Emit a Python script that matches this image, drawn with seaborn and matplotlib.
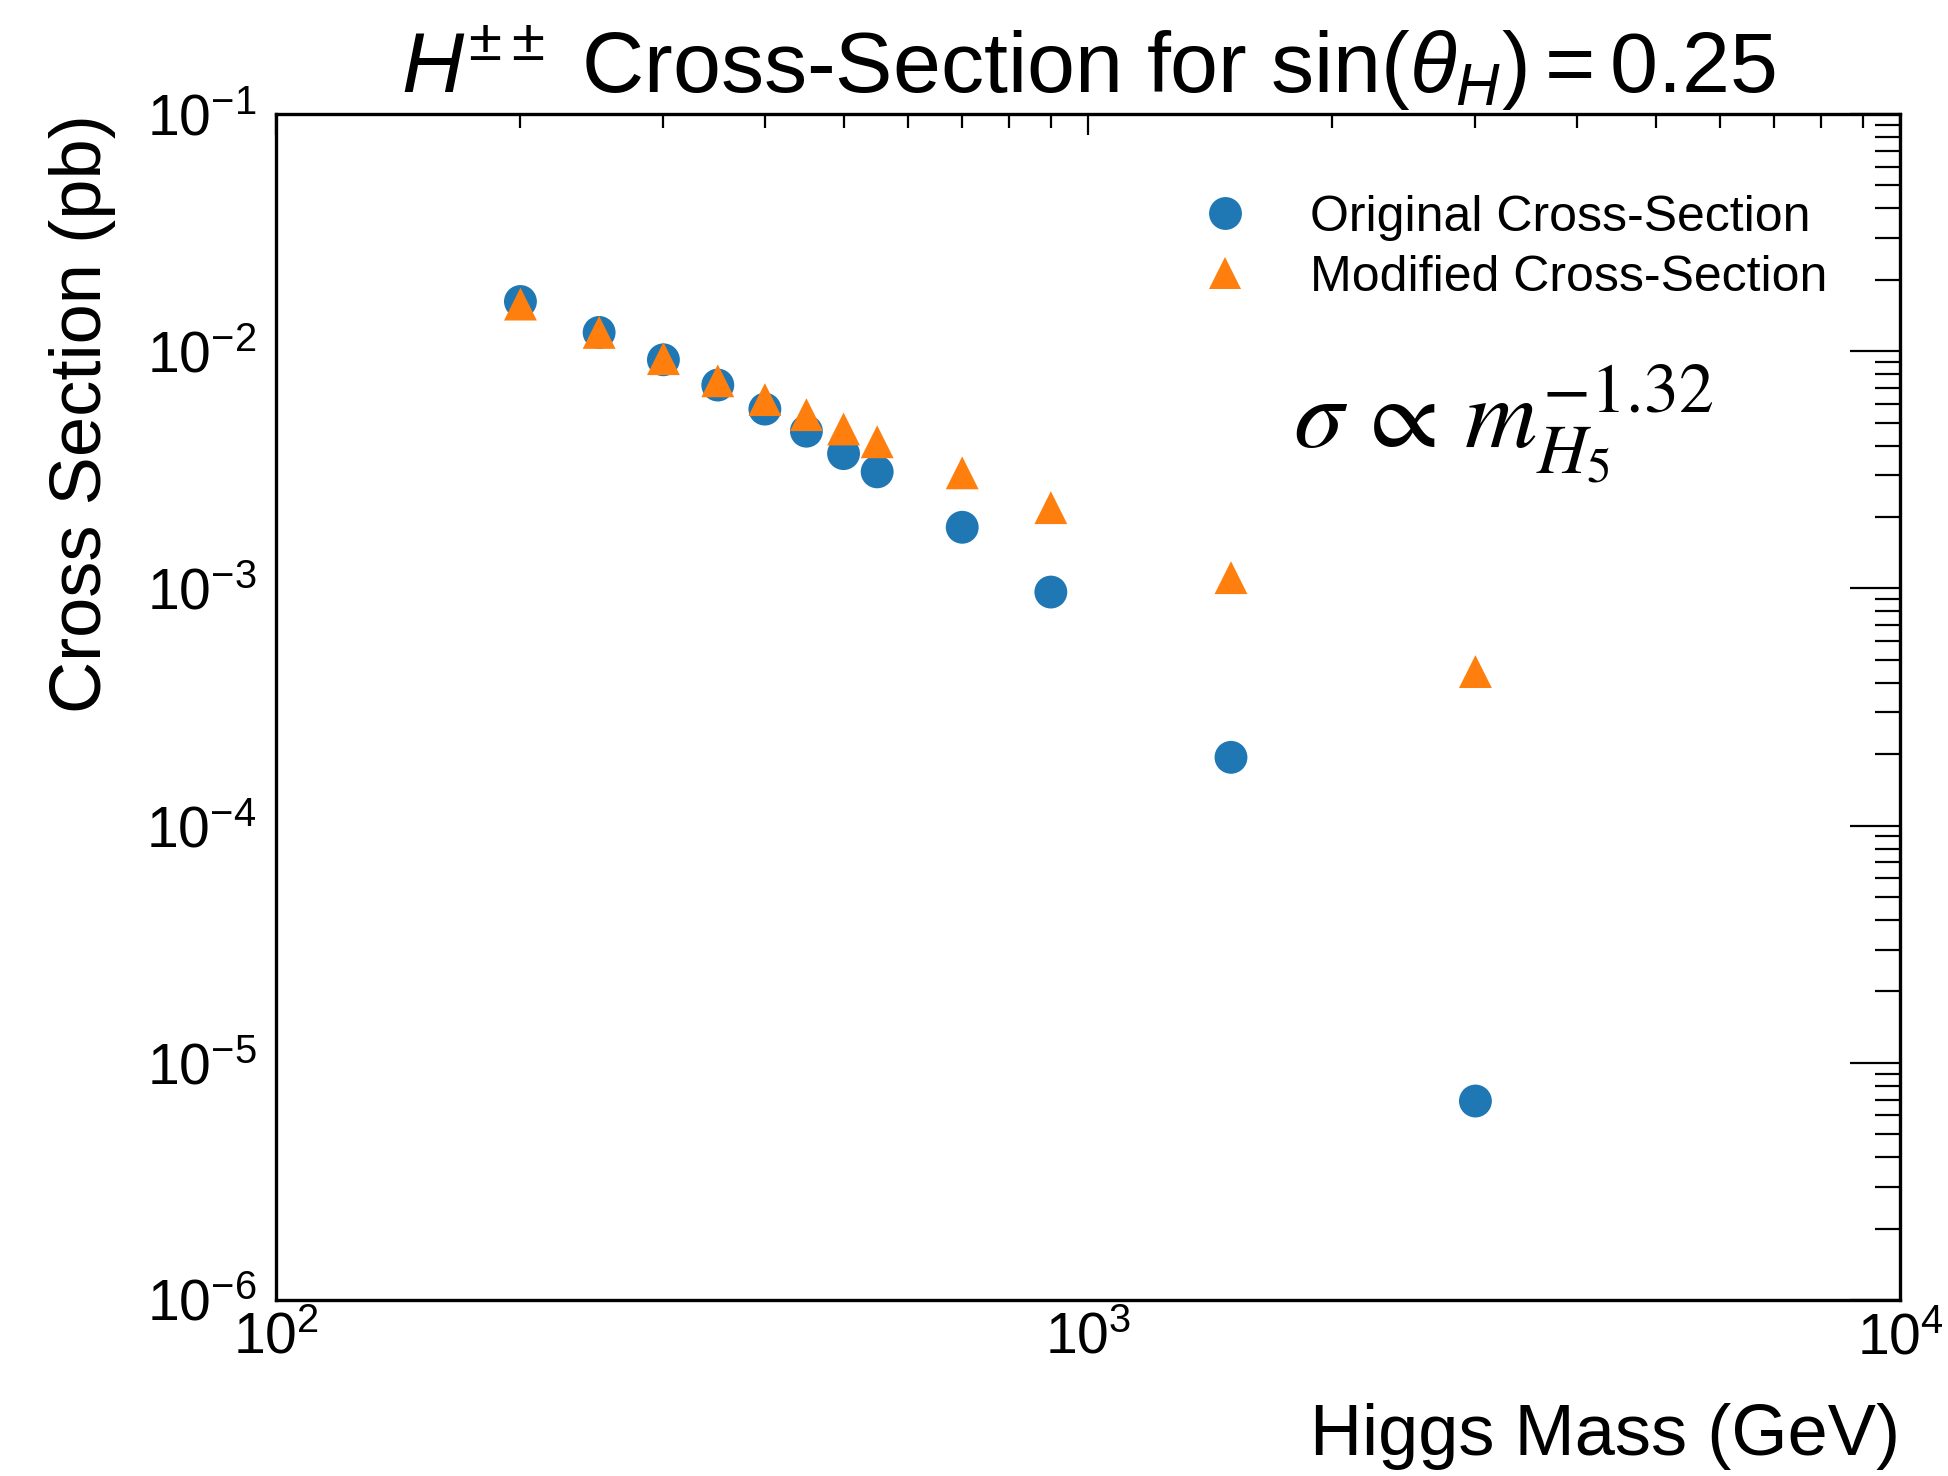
import numpy as np
import pandas as pd
import matplotlib
matplotlib.use("Agg")
import matplotlib.pyplot as plt
import seaborn as sns
from matplotlib.ticker import LogLocator, NullFormatter

# ---- data ----
mass = [200, 250, 300, 350, 400, 450, 500, 550, 700, 900, 1500, 3000]
xsec_original = [0.0162, 0.0120, 0.0092, 0.0072, 0.0057, 0.0046, 0.0037,
                 0.0031, 0.00181, 0.000965, 0.000194, 6.9e-6]
xsec_modified = [0.0158, 0.0120, 0.0093, 0.0075, 0.00625, 0.0054, 0.0047,
                 0.00415, 0.00307, 0.00219, 0.00111, 0.000446]
series_names = ["Original Cross-Section", "Modified Cross-Section"]

df = pd.DataFrame({
    "mass": mass + mass,
    "xsec": xsec_original + xsec_modified,
    "series": [series_names[0]] * len(mass) + [series_names[1]] * len(mass),
})

sns.set_theme(style="white")
plt.rcParams["font.family"] = ["Liberation Sans", "DejaVu Sans"]
plt.rcParams["mathtext.fontset"] = "custom"
plt.rcParams["mathtext.rm"] = "Liberation Sans"
plt.rcParams["mathtext.it"] = "Liberation Sans:italic"
plt.rcParams["mathtext.bf"] = "Liberation Sans:bold"
plt.rcParams["axes.unicode_minus"] = True
plt.rcParams["text.color"] = "black"
plt.rcParams["axes.labelcolor"] = "black"
plt.rcParams["xtick.color"] = "black"
plt.rcParams["ytick.color"] = "black"

fig = plt.figure(figsize=(19.48, 14.76), dpi=100)
ax = fig.add_axes([276 / 1948, 1 - 1300 / 1476, 1624 / 1948, 1186 / 1476])

sns.scatterplot(
    data=df, x="mass", y="xsec", hue="series", style="series",
    palette=["#1f77b4", "#ff7f0e"], markers=["o", "^"],
    s=560, linewidth=0, ax=ax, legend=True, zorder=3,
)

ax.set_xscale("log")
ax.set_yscale("log")
ax.set_xlim(1e2, 1e4)
ax.set_ylim(1e-6, 1e-1)

ax.xaxis.set_major_locator(LogLocator(base=10, numticks=10))
ax.xaxis.set_minor_locator(LogLocator(base=10, subs=np.arange(2, 10), numticks=20))
ax.yaxis.set_major_locator(LogLocator(base=10, numticks=10))
ax.yaxis.set_minor_locator(LogLocator(base=10, subs=np.arange(2, 10), numticks=20))
ax.xaxis.set_minor_formatter(NullFormatter())
ax.yaxis.set_minor_formatter(NullFormatter())

for sp in ax.spines.values():
    sp.set_linewidth(2.4)
    sp.set_color("black")

ax.tick_params(axis="both", which="both", direction="in", top=True, right=True,
               colors="black", width=1.6, labelsize=41)
ax.tick_params(axis="x", which="major", length=15, pad=8)
ax.tick_params(axis="x", which="minor", length=10)
ax.tick_params(axis="y", which="major", length=36, pad=14)
ax.tick_params(axis="y", which="minor", length=18)

ax.set_xlabel("Higgs Mass (GeV)", fontsize=52, loc="right", labelpad=27)
ax.set_ylabel("Cross Section (pb)", fontsize=52, loc="top", labelpad=22)
ax.set_title(r"$H^{\pm\pm}$ Cross-Section for $\sin(\theta_H) = 0.25$",
             fontsize=62, pad=15)

leg = ax.legend(loc="upper right", bbox_to_anchor=(0.983, 0.97), frameon=False,
                fontsize=36, handletextpad=0.7, labelspacing=0.28,
                markerscale=1.0)

ax.text(0.626, 0.719, r"$\sigma\,\propto\,m_{H_5}^{-1.32}$", transform=ax.transAxes,
        fontsize=72, math_fontfamily="stix", va="baseline", ha="left")

fig.savefig("out.png", dpi=100)
